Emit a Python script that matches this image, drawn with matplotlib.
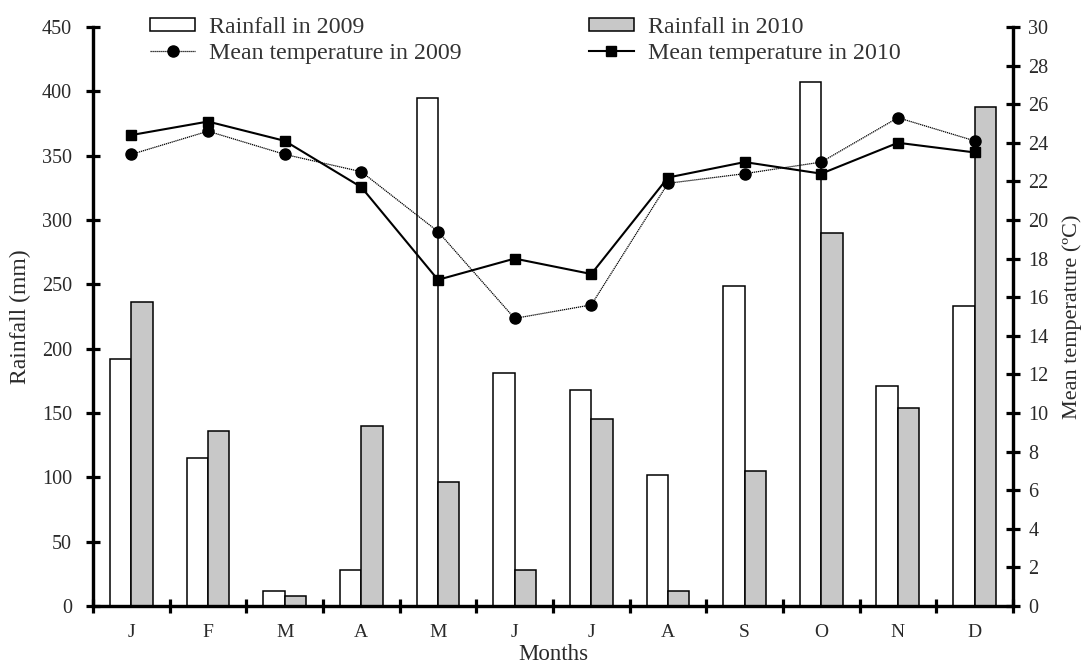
import matplotlib
matplotlib.use("Agg")
import matplotlib.pyplot as plt
import numpy as np

months = ["J", "F", "M", "A", "M", "J", "J", "A", "S", "O", "N", "D"]
rain_2009 = [192, 115, 12, 28, 395, 181, 168, 102, 249, 407, 171, 233]
rain_2010 = [236, 136, 8, 140, 96, 28, 145, 12, 105, 290, 154, 388]
temp_2009 = [23.4, 24.6, 23.4, 22.5, 19.4, 14.9, 15.6, 21.9, 22.4, 23.0, 25.3, 24.1]
temp_2010 = [24.4, 25.1, 24.1, 21.7, 16.9, 18.0, 17.2, 22.2, 23.0, 22.4, 24.0, 23.5]

plt.rcParams['font.family'] = ['Liberation Serif', 'DejaVu Serif']
txt = "#2a2a2a"

fig = plt.figure(figsize=(10.83, 6.66), dpi=100)
ax = fig.add_axes([0.0859, 0.0901, 0.8494, 0.8694])
ax2 = ax.twinx()

x = np.arange(len(months))
w = 0.28
b1 = ax.bar(x - w / 2, rain_2009, w, color="white", edgecolor="black", linewidth=1.1,
            label="Rainfall in 2009")
b2 = ax.bar(x + w / 2, rain_2010, w, color="#c8c8c8", edgecolor="black", linewidth=1.1,
            label="Rainfall in 2010")

l1, = ax2.plot(x, temp_2009, linestyle=(0, (1, 0.6)), color="black", linewidth=0.9,
               marker="o", markersize=8, label="Mean temperature in 2009")
l2, = ax2.plot(x, temp_2010, linestyle="-", color="black", linewidth=1.5,
               marker="s", markersize=6.5, label="Mean temperature in 2010")

ax.set_xlim(-0.5, len(months) - 0.5)
ax.set_ylim(0, 450)
ax2.set_ylim(0, 30)

ax.set_yticks(np.arange(0, 451, 50))
ax2.set_yticks(np.arange(0, 31, 2))
ax.set_xticks(x)
ax.set_xticklabels(months)
ax.set_xticks(np.arange(-0.5, len(months), 1.0), minor=True)

for a in (ax, ax2):
    a.spines["top"].set_visible(False)
    for s in ("left", "right", "bottom"):
        a.spines[s].set_linewidth(2.3)

ax.tick_params(axis="y", direction="inout", length=10, width=2.3, labelsize=14.5, pad=10,
               labelcolor=txt)
ax2.tick_params(axis="y", direction="inout", length=10, width=2.3, labelsize=14.5, pad=6,
                labelcolor=txt)
ax.tick_params(axis="x", which="major", length=0, labelsize=14, pad=13, labelcolor=txt)
ax.tick_params(axis="x", which="minor", direction="inout", length=10, width=2.3)

ax.set_ylabel("Rainfall (mm)", fontsize=17, labelpad=8, color=txt)
ax2.set_ylabel("Mean temperature (ºC)", fontsize=16, labelpad=10, color=txt)
ax.set_xlabel("Months", fontsize=16.5, labelpad=2, color=txt)

handles = [b1, l1, b2, l2]
leg = fig.legend(handles=handles, loc="upper left", bbox_to_anchor=(0.119, 1.007), ncol=2,
                 frameon=False, fontsize=17.2, handlelength=1.86, handleheight=0.5,
                 columnspacing=5.33, labelspacing=0.2, handletextpad=0.6)
for t in leg.get_texts():
    t.set_color("#333333")

fig.savefig("out.png", dpi=100)
